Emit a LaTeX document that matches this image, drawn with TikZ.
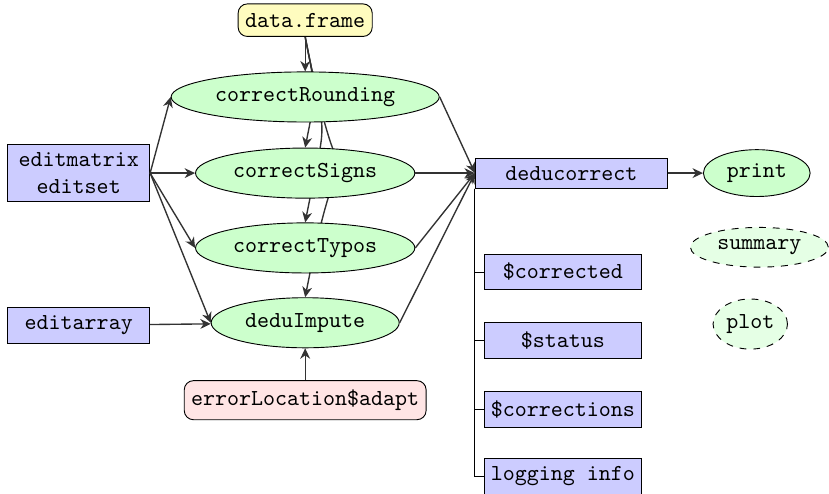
\documentclass[tikz,border=0pt]{standalone}
\usetikzlibrary{shapes.geometric,backgrounds,arrows.meta}
\begin{document}
\begin{tikzpicture}[
    font=\ttfamily,
    obj/.style={draw, fill=blue!20, minimum height=5.5mm, minimum width=24mm, inner sep=2pt},
    fun/.style={draw, ellipse, fill=green!20, minimum height=7.7mm, inner sep=1pt},
    method/.style={fun, dashed, fill=green!10},
    src/.style={draw, rounded corners=4pt, minimum height=5mm, inner sep=3pt},
    arr/.style={-{Stealth[length=1.6mm, width=1.5mm, inset=0.5mm]}, draw=black!80, line width=0.6pt},
]
    \useasboundingbox (0,0) rectangle (12.74,-7.59);

    % Inputs
    \node[src, fill=yellow!25, minimum width=20.6mm] (df) at (4.69,-0.31) {data.frame};
    \node[obj, minimum width=21.8mm, minimum height=8.8mm, align=center] (em) at (1.21,-2.66) {editmatrix\\editset};
    \node[obj, minimum width=21.8mm] (ea) at (1.21,-5.0) {editarray};
    \node[src, fill=red!10, minimum width=35.8mm, minimum height=6mm] (el) at (4.69,-6.15) {errorLocation\$adapt};

    % Correction functions
    \node[fun, minimum width=41.2mm] (rnd) at (4.69,-1.49) {correctRounding};
    \node[fun, minimum width=33.7mm] (sig) at (4.69,-2.66) {correctSigns};
    \node[fun, minimum width=33.7mm] (typ) at (4.69,-3.81) {correctTypos};
    \node[fun, minimum width=28.9mm] (imp) at (4.69,-4.96) {deduImpute};

    % Result object and its parts
    \node[obj, minimum width=29.5mm, minimum height=4.6mm] (dc) at (8.78,-2.66) {deducorrect};
    \node[obj] (corr) at (8.65,-4.18) {\$corrected};
    \node[obj] (stat) at (8.65,-5.23) {\$status};
    \node[obj] (cors) at (8.65,-6.29) {\$corrections};
    \node[obj] (log) at (8.65,-7.32) {logging info};

    % Methods
    \node[fun, minimum width=16.4mm, minimum height=7.2mm] (pr) at (11.63,-2.66) {print};
    \node[method, minimum width=21.2mm, minimum height=6.1mm] (sm) at (11.67,-3.80) {summary};
    \node[method, minimum width=10.8mm] (pl) at (11.53,-4.98) {plot};

    % data.frame feeds every function
    \draw[arr] (df) -- (rnd);
    \begin{scope}[on background layer]
        \foreach \f/\l in {sig/1.4, typ/1.6, imp/2.4}
            \draw[arr] (df.south) to[bend left=11, looseness=\l] (\f.north);
    \end{scope}

    % edit rules
    \foreach \f in {rnd, sig, typ, imp}
        \draw[arr] (em.east) -- (\f.west);
    \draw[arr] (ea) -- (imp);
    \draw[arr] (el) -- (imp);

    % every function returns a deducorrect object
    \foreach \f in {rnd, sig, typ, imp}
        \draw[arr] (\f.east) -- (dc.west);
    \draw[arr] (dc) -- (pr);

    % slots of the object
    \foreach \o in {corr, stat, cors, log}
        \draw (dc.south west) |- (\o.west);
\end{tikzpicture}
\end{document}
